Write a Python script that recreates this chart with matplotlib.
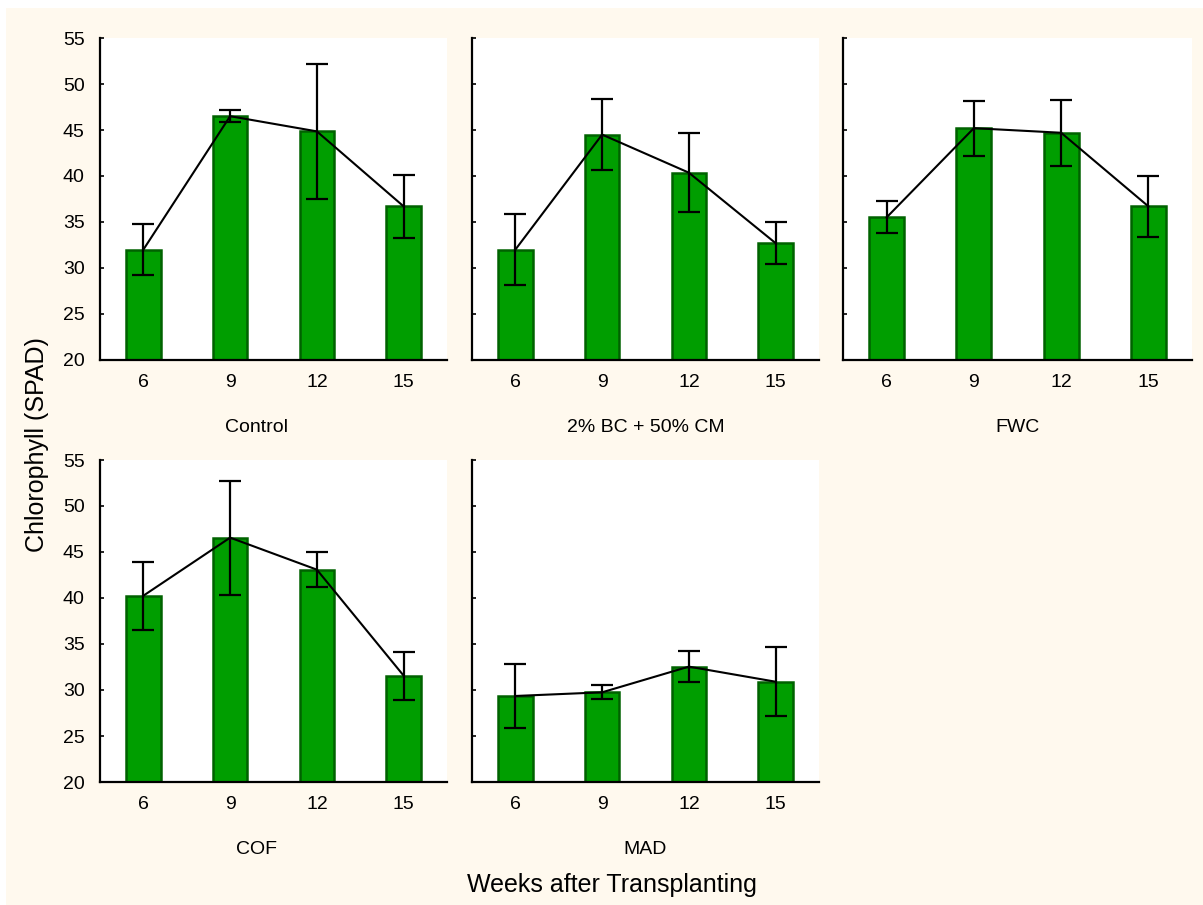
import matplotlib
matplotlib.use("Agg")
import matplotlib.pyplot as plt
from matplotlib.patches import Rectangle
import numpy as np

plt.rcParams['font.family'] = ['Liberation Sans', 'DejaVu Sans']

weeks = ["6", "9", "12", "15"]
panels = ["Control", "2% BC + 50% CM", "FWC", "COF", "MAD"]

control_mean = [32.0, 46.5, 44.85, 36.7]
control_err = [2.77, 0.65, 7.3, 3.4]
bc_cm_mean = [32.0, 44.5, 40.36, 32.7]
bc_cm_err = [3.84, 3.82, 4.28, 2.3]
fwc_mean = [35.5, 45.2, 44.7, 36.7]
fwc_err = [1.75, 3.0, 3.6, 3.35]
cof_mean = [40.25, 46.56, 43.08, 31.56]
cof_err = [3.7, 6.2, 1.9, 2.6]
mad_mean = [29.35, 29.75, 32.54, 30.9]
mad_err = [3.45, 0.76, 1.7, 3.74]

means = [control_mean, bc_cm_mean, fwc_mean, cof_mean, mad_mean]
errs = [control_err, bc_cm_err, fwc_err, cof_err, mad_err]

W, H = 1203, 905
fig = plt.figure(figsize=(W / 100, H / 100), dpi=100, facecolor='white')
bg = Rectangle((6 / W, 0), (W - 6) / W, (H - 8) / H,
               transform=fig.transFigure, facecolor='#FFF9EE',
               edgecolor='none', zorder=-10)
fig.add_artist(bg)

col_left = [100, 472, 843]
col_w = [347, 347, 349]
row_top = [38, 460]
ax_h = 322
label_x = [0.45, 0.5, 0.5]

for i, name in enumerate(panels):
    r, c = divmod(i, 3)
    ax = fig.add_axes([col_left[c] / W, (H - row_top[r] - ax_h) / H,
                       col_w[c] / W, ax_h / H])
    ax.set_zorder(1)
    ax.set_facecolor('white')
    x = np.arange(len(weeks))
    ax.bar(x, means[i], width=0.4, bottom=0, color='#009E00',
           edgecolor='#006200', linewidth=1.8, zorder=2)
    ax.plot(x, means[i], color='black', lw=1.5, zorder=3)
    ax.errorbar(x, means[i], yerr=errs[i], fmt='none', ecolor='black',
                elinewidth=1.6, capsize=8, capthick=1.6, zorder=4)
    ax.set_xlim(-0.5, 3.5)
    ax.set_ylim(20, 55)
    ax.set_xticks(x)
    ax.set_xticklabels(weeks)
    ax.set_yticks(np.arange(20, 56, 5))
    if c == 0:
        ax.set_yticklabels([str(v) for v in range(20, 56, 5)])
    else:
        ax.set_yticklabels([])
    for s in ['top', 'right']:
        ax.spines[s].set_visible(False)
    for s in ['left', 'bottom']:
        ax.spines[s].set_linewidth(1.6)
        ax.spines[s].set_color('black')
    ax.tick_params(axis='both', direction='in', length=3, width=1.2,
                   labelsize=14, colors='black')
    ax.tick_params(axis='x', pad=10)
    ax.tick_params(axis='y', pad=11)
    ax.text(label_x[c], -0.211, name, transform=ax.transAxes,
            ha='center', va='center', fontsize=14)

fig.text(37 / W, 1 - 445 / H, "Chlorophyll (SPAD)", rotation=90,
         ha='center', va='center', fontsize=18, zorder=2)
fig.text(612 / W, 1 - 885 / H, "Weeks after Transplanting",
         ha='center', va='center', fontsize=18, zorder=2)

fig.savefig("out.png", dpi=100, facecolor=fig.get_facecolor())
